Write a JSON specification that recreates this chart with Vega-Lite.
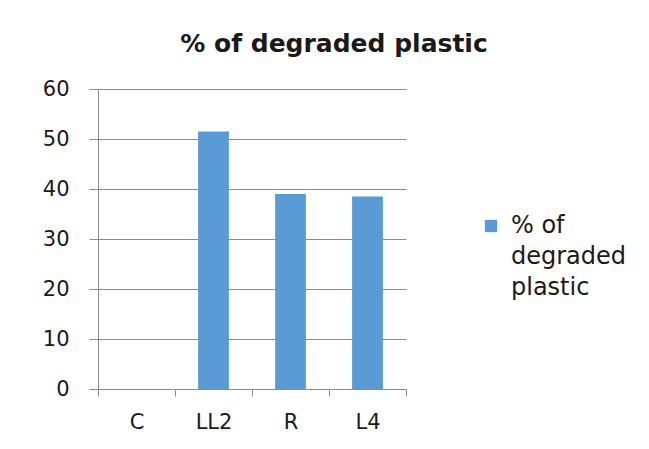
{
  "$schema": "https://vega.github.io/schema/vega-lite/v6.json",
  "width": 308,
  "height": 300,
  "autosize": {"type": "none"},
  "padding": {"left": 98, "top": 89, "right": 243, "bottom": 60},
  "background": "white",
  "title": {
    "text": "% of degraded plastic",
    "anchor": "middle",
    "frame": "group",
    "dx": 82,
    "offset": 21,
    "font": "DejaVu Sans",
    "fontSize": 25,
    "fontWeight": "bold",
    "color": "#1a1a1a"
  },
  "data": {
    "values": [
      {"group": "C", "value": 0},
      {"group": "LL2", "value": 51.5},
      {"group": "R", "value": 39.0},
      {"group": "L4", "value": 38.5}
    ]
  },
  "mark": {"type": "bar", "width": {"band": 0.4}, "color": "#5B9BD5"},
  "encoding": {
    "x": {
      "field": "group",
      "type": "nominal",
      "sort": ["C", "LL2", "R", "L4"],
      "scale": {"paddingInner": 0, "paddingOuter": 0},
      "axis": {
        "title": null,
        "labelAngle": 0,
        "labelFont": "DejaVu Sans",
        "labelFontSize": 21,
        "labelColor": "#1a1a1a",
        "labelPadding": 15,
        "tickBand": "extent",
        "tickSize": 7,
        "tickColor": "#8c8c8c",
        "domainColor": "#8c8c8c",
        "grid": false
      }
    },
    "y": {
      "field": "value",
      "type": "quantitative",
      "scale": {"domain": [0, 60], "nice": false},
      "axis": {
        "title": null,
        "values": [0, 10, 20, 30, 40, 50, 60],
        "labelFont": "DejaVu Sans",
        "labelFontSize": 21,
        "labelColor": "#1a1a1a",
        "labelPadding": 20,
        "tickSize": 9,
        "tickColor": "#8c8c8c",
        "domainColor": "#8c8c8c",
        "grid": true,
        "gridColor": "#8c8c8c",
        "gridWidth": 1
      }
    },
    "color": {
      "datum": "% of degraded plastic",
      "type": "nominal",
      "scale": {"range": ["#5B9BD5"]},
      "legend": {
        "title": null,
        "orient": "none",
        "legendX": 381,
        "legendY": 125,
        "symbolType": "square",
        "symbolSize": 150,
        "symbolStrokeWidth": 0,
        "symbolOpacity": 1,
        "labelFont": "DejaVu Sans",
        "labelFontSize": 24,
        "labelColor": "#1a1a1a",
        "labelOffset": 8,
        "labelExpr": "['% of', 'degraded', 'plastic']",
        "encode": {"labels": {"update": {"lineHeight": {"value": 31}}}}
      }
    }
  },
  "config": {
    "view": {"stroke": null}
  }
}
